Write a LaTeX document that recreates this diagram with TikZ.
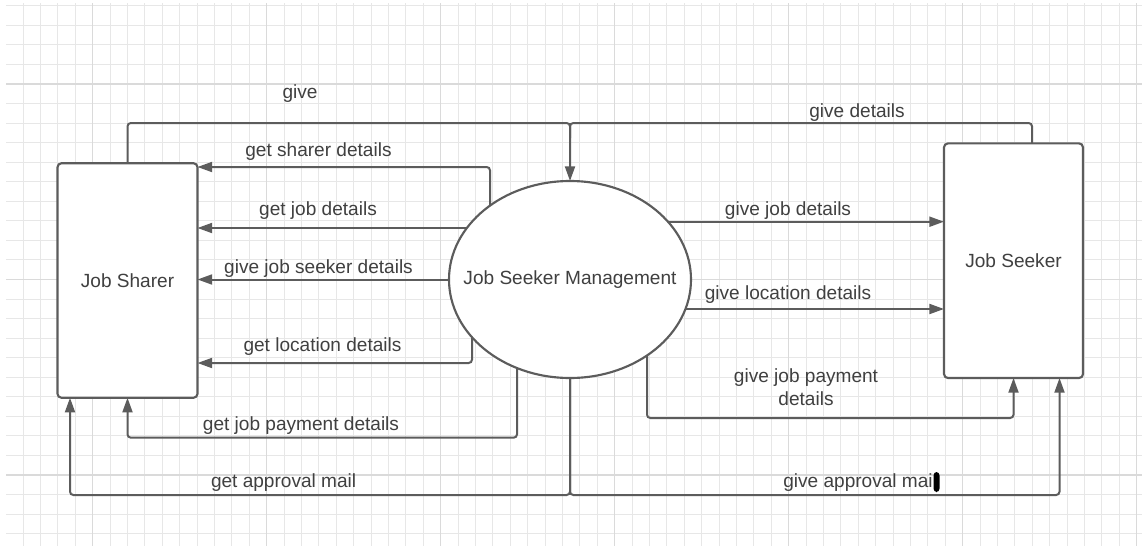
\documentclass[tikz,border=0pt]{standalone}
\usepackage{fontspec}
\setmainfont{Liberation Sans}
\usetikzlibrary{arrows.meta,shapes.geometric}
\definecolor{gridminor}{HTML}{E7E7E7}
\definecolor{gridmajor}{HTML}{DADADA}
\definecolor{linec}{HTML}{5C5C5C}
\definecolor{textc}{HTML}{404040}
\pgfdeclarelayer{bg}
\pgfdeclarelayer{grid}
\pgfsetlayers{grid,bg,main}
\tikzset{
  conn/.style={draw=linec, line width=1.5pt, rounded corners=2.5pt},
  arr/.style={conn, -{Triangle[length=11pt,width=7.5pt]}},
  entity/.style={draw=linec, line width=1.6pt, fill=white, rounded corners=3pt, inner sep=0pt, outer sep=0pt, font=\fontsize{14.3}{17}\selectfont, text=textc},
  process/.style={draw=linec, line width=1.6pt, fill=white, ellipse, inner sep=0pt, outer sep=0pt},
  lbl/.style={font=\fontsize{14.3}{17}\selectfont, text=textc, inner sep=0pt, align=center},
  gmin/.style={draw=gridminor, line width=0.8pt},
  gmaj/.style={draw=gridmajor, line width=1.1pt}
}
\begin{document}
\begin{tikzpicture}[x=0.75pt, y=-0.75pt]
\useasboundingbox (0,0) rectangle (1142,546);

% grid
\begin{pgfonlayer}{grid}
\fill[white] (0,0) rectangle (1142,546);
\foreach \i in {-4,...,60} {\draw[gmin] ({92.7+17.4*\i},3) -- ({92.7+17.4*\i},546);}
\foreach \j in {-4,...,23} {\draw[gmin] (6,{84+19.55*\j}) -- (1142,{84+19.55*\j});}
\foreach \i in {0,...,6} {\draw[gmaj] ({92.7+174*\i},3) -- ({92.7+174*\i},546);}
\foreach \j in {0,1,2} {\draw[gmaj] (6,{84+195.5*\j}) -- (1142,{84+195.5*\j});}
\end{pgfonlayer}

% nodes
\node[entity, minimum width=105pt, minimum height=175.9pt] (sharer) at (127.5,280.5) {Job Sharer};
\node[entity, minimum width=104.25pt, minimum height=176pt] (seeker) at (1013.5,260.7) {Job Seeker};
\node[process, minimum width=181.5pt, minimum height=147.75pt] (jsm) at (570,279.5) {};
\node[lbl] (jsmtext) at (jsm.center) {Job Seeker Management};

% helper coordinates
\coordinate (topj) at (570,123);
\coordinate (gdx) at (1032,0);
\coordinate (sdx) at (490,167);
\coordinate (jdy) at (0,228);
\coordinate (locx) at (472,363);
\coordinate (payl) at (517,437.7);
\coordinate (apy) at (0,495);
\coordinate (apl) at (70,0);
\coordinate (apr) at (1059.5,0);
\coordinate (gjdy) at (0,221.7);
\coordinate (gly) at (0,309);
\coordinate (payr) at (647,418);

% connectors (behind the process)
\begin{pgfonlayer}{bg}
\draw[arr] (sharer.north) |- (topj) -- (jsm.north);
\draw[conn] (gdx |- seeker.north) |- (topj) -- ++(0,15);
\draw[arr] (sdx |- jsm.center) |- (sharer.east |- sdx);
\draw[arr] (jsm.center |- jdy) -- (sharer.east |- jdy);
\draw[arr] (jsm.center) -- (sharer.east |- jsm.center);
\draw[arr] (locx |- jsm.center) |- (sharer.east |- locx);
\draw[arr] (payl |- jsm.center) |- (sharer.south |- payl) -- (sharer.south);
\draw[arr] (jsm.center) |- (apl |- apy) -- (apl |- sharer.south);
\draw[arr] (jsm.center) |- (apr |- apy) -- (apr |- seeker.south);
\draw[arr] (jsm.center |- gjdy) -- (seeker.west |- gjdy);
\draw[arr] (jsm.center |- gly) -- (seeker.west |- gly);
\draw[arr] (payr |- jsm.center) |- (seeker.south |- payr) -- (seeker.south);
\end{pgfonlayer}

% labels
\node[lbl] (l1) at (300,93.3) {give};
\node[lbl] (l2) at (857,112.3) {give details};
\node[lbl] (l3) at (318.5,151.7) {get sharer details};
\node[lbl] (l4) at (318,210.7) {get job details};
\node[lbl] (l5) at (318.5,269) {give job seeker details};
\node[lbl] (l6) at (322.5,346.7) {get location details};
\node[lbl] (l7) at (301,426) {get job payment details};
\node[lbl] (l8) at (283.6,483) {get approval mail};
\node[lbl] (l9) at (788,210.7) {give job details};
\node[lbl] (l10) at (788,295) {give location details};
\node[lbl] (l11) at (806,387.5) {give job payment\\details};
\node[lbl, anchor=east] (l12) at (933,482.7) {give approval mai};
\fill[black, rounded corners=2.5pt] (933.5,472) rectangle (939.5,492);
\end{tikzpicture}
\end{document}
